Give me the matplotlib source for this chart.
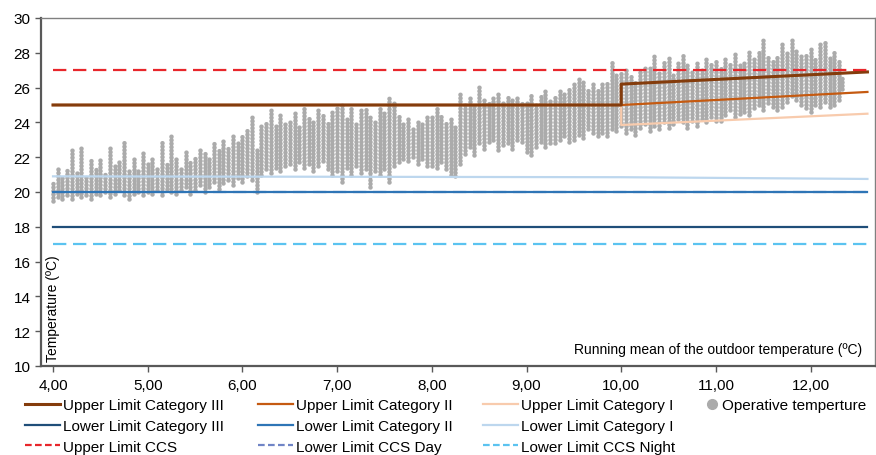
import matplotlib
matplotlib.use("Agg")
import matplotlib.pyplot as plt
from matplotlib.lines import Line2D

plt.rcParams['font.family'] = ['Liberation Sans', 'DejaVu Sans']

# ---- limit lines (running mean x, temperature y) ----
upper_III_x = [4.0, 10.0, 10.0, 12.6]
upper_III_y = [25.0, 25.0, 26.2, 26.9]
upper_II_x = [4.0, 10.0, 12.6]
upper_II_y = [25.0, 25.0, 25.75]
upper_I_x = [4.0, 10.0, 10.0, 12.6]
upper_I_y = [25.0, 25.0, 23.85, 24.5]
lower_III_x = [4.0, 12.6]
lower_III_y = [18.0, 18.0]
lower_II_x = [4.0, 12.6]
lower_II_y = [20.0, 20.0]
lower_I_x = [4.0, 10.0, 12.6]
lower_I_y = [20.9, 20.85, 20.75]
upper_ccs_x = [4.0, 12.6]
upper_ccs_y = [27.0, 27.0]
lower_ccs_day_x = [4.0, 12.6]
lower_ccs_day_y = [20.0, 20.0]
lower_ccs_night_x = [4.0, 12.6]
lower_ccs_night_y = [17.0, 17.0]

# ---- operative temperature: daily clusters (running mean, min, max) ----
op_x = [4.00, 4.05, 4.10, 4.15, 4.20, 4.25, 4.30, 4.35, 4.40, 4.45,
        4.50, 4.55, 4.60, 4.65, 4.70, 4.75, 4.80, 4.85, 4.90, 4.95,
        5.00, 5.05, 5.10, 5.15, 5.20, 5.25, 5.30, 5.35, 5.40, 5.45,
        5.50, 5.55, 5.60, 5.65, 5.70, 5.75, 5.80, 5.85, 5.90, 5.95,
        6.00, 6.05, 6.10, 6.15, 6.20, 6.25, 6.30, 6.35, 6.40, 6.45,
        6.50, 6.55, 6.60, 6.65, 6.70, 6.75, 6.80, 6.85, 6.90, 6.95,
        7.00, 7.05, 7.10, 7.15, 7.20, 7.25, 7.30, 7.35, 7.40, 7.45,
        7.50, 7.55, 7.60, 7.65, 7.70, 7.75, 7.80, 7.85, 7.90, 7.95,
        8.00, 8.05, 8.10, 8.15, 8.20, 8.25,
        8.30, 8.35, 8.40, 8.45, 8.50, 8.55, 8.60, 8.65, 8.70, 8.75,
        8.80, 8.85, 8.90, 8.95, 9.00, 9.05, 9.10, 9.15, 9.20, 9.25,
        9.30, 9.35, 9.40, 9.45, 9.50, 9.55, 9.60, 9.65, 9.70, 9.75,
        9.80, 9.85, 9.90, 9.95, 10.00, 10.05, 10.10, 10.15, 10.20, 10.25,
        10.30, 10.35, 10.40, 10.45, 10.50, 10.55, 10.60, 10.65, 10.70, 10.75,
        10.80, 10.85, 10.90, 10.95, 11.00, 11.05, 11.10, 11.15, 11.20, 11.25,
        11.30, 11.35, 11.40, 11.45, 11.50, 11.55, 11.60, 11.65, 11.70, 11.75,
        11.80, 11.85, 11.90, 11.95, 12.00, 12.05, 12.10, 12.15, 12.20, 12.25,
        12.30, 12.33]
op_lo = [19.5, 19.7, 19.6, 19.8, 19.6, 19.9, 19.7, 19.8, 19.6, 19.9,
         19.8, 20.0, 19.7, 19.9, 20.1, 19.8, 19.6, 19.9, 20.0, 19.8,
         20.0, 19.9, 20.1, 19.8, 20.2, 20.0, 19.9, 20.1, 20.3, 19.9,
         20.1, 20.4, 20.0, 20.3, 20.6, 20.2, 20.5, 20.7, 20.4, 20.8,
         20.6, 20.9, 20.7, 20.0, 21.0, 21.3, 21.1, 21.4, 21.2, 21.5,
         21.6, 21.3, 21.7, 21.4, 21.6, 21.2, 21.5, 21.8, 21.3, 21.0,
         21.2, 20.6, 21.4, 21.0, 21.5, 21.1, 21.3, 20.3, 21.2, 21.0,
         21.3, 20.6, 21.5, 21.7, 21.9, 21.8, 22.0, 21.6, 21.9, 21.5,
         21.5, 21.4, 21.7, 21.3, 21.0, 20.9,
         21.6, 22.2, 22.6, 22.1, 22.8, 22.5, 22.9, 23.0, 22.4, 22.7,
         22.8, 22.5, 23.0, 22.9, 22.3, 22.1, 22.6, 22.9, 22.6, 22.8,
         22.8, 23.0, 23.2, 22.9, 23.0, 23.3, 23.1, 23.6, 23.4, 23.2,
         23.4, 23.2, 23.6, 23.5, 23.8, 23.4, 23.6, 23.3, 23.7, 23.9,
         23.5, 23.8, 23.6, 24.0, 23.7, 23.9, 24.2, 24.0, 23.7, 24.1,
         23.8, 24.2, 24.0, 24.3, 24.1, 24.1, 24.4, 24.7, 24.3, 24.5,
         24.6, 24.4, 24.8, 25.0, 24.7, 25.1, 24.9, 24.7, 24.9, 25.2,
         25.5, 25.3, 25.0, 24.8, 24.6, 25.0, 24.9, 25.2, 24.9, 25.0,
         25.3, 25.9]
op_hi = [20.6, 21.3, 20.9, 21.4, 22.5, 21.2, 22.6, 21.0, 21.9, 21.3,
         21.9, 21.1, 22.6, 21.5, 21.8, 22.9, 21.4, 22.0, 21.3, 22.4,
         21.6, 22.0, 21.4, 22.9, 21.7, 23.4, 22.0, 21.5, 22.3, 21.8,
         22.0, 22.6, 22.3, 21.9, 22.9, 22.4, 23.0, 22.6, 23.4, 22.8,
         23.2, 23.6, 24.5, 22.5, 23.8, 24.0, 24.8, 23.9, 24.4, 24.1,
         24.0, 24.6, 23.8, 24.9, 24.3, 24.0, 24.9, 24.4, 24.0, 24.6,
         24.9, 25.2, 24.3, 24.8, 24.1, 24.7, 24.8, 24.5, 24.2, 24.8,
         24.6, 25.4, 25.1, 24.5, 24.0, 24.2, 23.8, 24.2, 23.9, 24.3,
         24.3, 24.8, 24.5, 24.0, 24.2, 23.9,
         25.7, 25.2, 25.6, 25.0, 26.2, 25.4, 25.1, 25.6, 25.8, 25.2,
         25.5, 25.3, 25.6, 25.1, 25.3, 25.6, 25.2, 25.5, 25.9, 25.4,
         25.6, 25.9, 25.7, 26.0, 26.2, 26.6, 26.5, 26.0, 26.3, 25.9,
         26.2, 26.4, 27.6, 26.8, 26.9, 27.2, 26.7, 26.3, 26.9, 27.3,
         27.2, 27.9, 27.0, 27.5, 27.8, 26.9, 27.4, 27.9, 27.3, 27.0,
         27.5, 27.2, 27.8, 27.4, 27.6, 27.2, 27.8, 27.5, 28.0, 27.4,
         27.6, 28.2, 27.7, 28.1, 28.8, 27.9, 27.6, 27.9, 28.5, 28.0,
         28.9, 28.3, 27.8, 27.9, 28.2, 27.7, 28.6, 28.7, 27.8, 28.1,
         27.6, 26.6]

x_ticks = [4, 5, 6, 7, 8, 9, 10, 11, 12]
x_tick_labels = ["4,00", "5,00", "6,00", "7,00", "8,00", "9,00", "10,00", "11,00", "12,00"]
y_ticks = [10, 12, 14, 16, 18, 20, 22, 24, 26, 28, 30]

C_UIII = "#843C0C"
C_UII = "#C55A11"
C_UI = "#F8CBAD"
C_LIII = "#1F4E79"
C_LII = "#2E75B6"
C_LI = "#BDD7EE"
C_UCCS = "#E8262B"
C_LCCSD = "#7085C6"
C_LCCSN = "#5BC3F0"
C_OP = "#ABABAB"

fig = plt.figure(figsize=(8.76, 4.56), dpi=100)
ax = fig.add_axes([41/876, 1-367/456, (875-41)/876, (367-19)/456])

ax.vlines(op_x, op_lo, op_hi, colors=C_OP, linewidth=3.3, capstyle='round',
          linestyles=[(0, (0.01, 0.75))], zorder=1)

ax.plot(lower_ccs_night_x, lower_ccs_night_y, color=C_LCCSN, lw=1.6, dashes=(6, 3), zorder=3)
ax.plot(lower_III_x, lower_III_y, color=C_LIII, lw=1.6, zorder=3)
ax.plot(lower_ccs_day_x, lower_ccs_day_y, color=C_LCCSD, lw=1.6, dashes=(6, 3), zorder=3)
ax.plot(lower_II_x, lower_II_y, color=C_LII, lw=1.6, zorder=3)
ax.plot(lower_I_x, lower_I_y, color=C_LI, lw=1.6, zorder=3)
ax.plot(upper_I_x, upper_I_y, color=C_UI, lw=1.6, zorder=3)
ax.plot(upper_II_x, upper_II_y, color=C_UII, lw=1.6, zorder=4)
ax.plot(upper_III_x, upper_III_y, color=C_UIII, lw=2.2, zorder=5)
ax.plot(upper_ccs_x, upper_ccs_y, color=C_UCCS, lw=1.6, dashes=(6, 3), zorder=6)

ax.set_xlim(3.873, 12.68)
ax.set_ylim(10, 30)
ax.set_xticks(x_ticks)
ax.set_xticklabels(x_tick_labels)
ax.set_yticks(y_ticks)
ax.tick_params(axis='both', labelsize=11, colors='#595959', labelcolor='black',
               direction='out', length=4, width=1)
ax.tick_params(axis='x', pad=5)

for side in ['left', 'bottom']:
    ax.spines[side].set_color('#595959')
    ax.spines[side].set_linewidth(1.6)
for side in ['top', 'right']:
    ax.spines[side].set_color('#808080')
    ax.spines[side].set_linewidth(1.0)

ax.text(0.006, 0.015, "Temperature (ºC)", transform=ax.transAxes, rotation=90,
        ha='left', va='bottom', fontsize=10)
ax.text(0.984, 0.028, "Running mean of the outdoor temperature (ºC)", transform=ax.transAxes,
        ha='right', va='bottom', fontsize=10)

def h(color, dashed=False, lw=1.6):
    if dashed:
        return Line2D([], [], color=color, lw=lw, dashes=(3, 1.5))
    return Line2D([], [], color=color, lw=lw)

columns = [
    (25, [(h(C_UIII, lw=2.2), "Upper Limit Category III"),
          (h(C_LIII), "Lower Limit Category III"),
          (h(C_UCCS, True), "Upper Limit CCS")]),
    (258, [(h(C_UII), "Upper Limit Category II"),
           (h(C_LII), "Lower Limit Category II"),
           (h(C_LCCSD, True), "Lower Limit CCS Day")]),
    (483, [(h(C_UI), "Upper Limit Category I"),
           (h(C_LI), "Lower Limit Category I"),
           (h(C_LCCSN, True), "Lower Limit CCS Night")]),
]
for x0, entries in columns:
    fig.legend([e[0] for e in entries], [e[1] for e in entries],
               loc='upper left', bbox_to_anchor=(x0/876, 1-399/456),
               frameon=False, fontsize=11, handlelength=2.3, handletextpad=0.2,
               borderpad=0, borderaxespad=0, labelspacing=0.45)
op_handle = Line2D([], [], color=C_OP, marker='o', ls='', markersize=7)
fig.legend([op_handle], ["Operative temperture"], loc='upper left',
           bbox_to_anchor=(704/876, 1-399/456), frameon=False, fontsize=11,
           handlelength=1.0, handletextpad=0.2, borderpad=0, borderaxespad=0)

fig.savefig("out.png", dpi=100)
